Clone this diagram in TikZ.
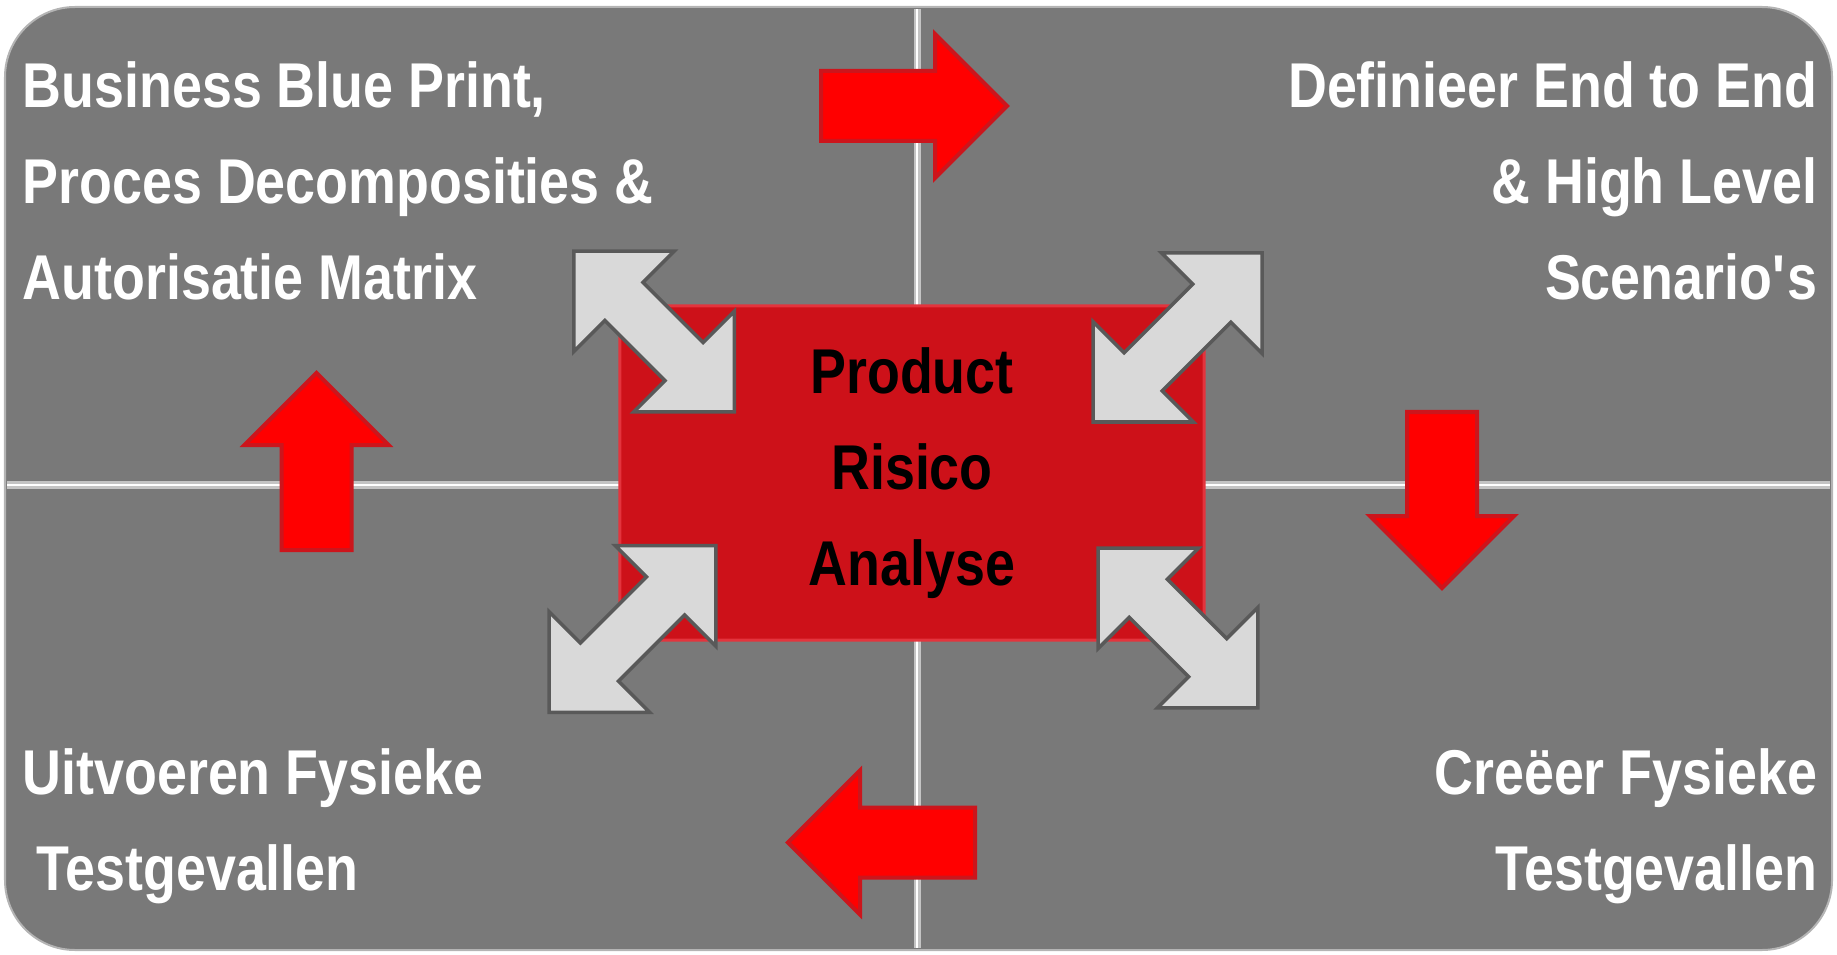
\documentclass[tikz,border=0pt]{standalone}
\usepackage{fontspec}
\newfontfamily\condfont{Liberation Sans}[FakeStretch=0.85]
\definecolor{panelgrey}{HTML}{797979}
\definecolor{paneledge}{HTML}{B4B4B4}
\definecolor{splitgrey}{HTML}{C4C4C4}
\definecolor{riskred}{HTML}{CD1119}
\definecolor{riskedge}{HTML}{E3343D}
\definecolor{flowred}{HTML}{FF0000}
\definecolor{flowedge}{HTML}{CC151C}
\definecolor{linkgrey}{HTML}{D9D9D9}
\definecolor{linkedge}{HTML}{595959}

\begin{document}
\begin{tikzpicture}[x=0.01cm, y=-0.01cm,
    quadtext/.style={text=white, inner sep=0pt, font={\condfont\bfseries\fontsize{18}{27.3}\selectfont}},
    flowarrow/.style={fill=flowred, draw=flowedge, line width=0.04cm, line join=miter},
    linkarrow/.style={fill=linkgrey, draw=linkedge, line width=0.035cm, line join=miter}]
    \useasboundingbox (0,0) rectangle (1837,955);

    % Draw panel
    \draw[fill=panelgrey, draw=paneledge, line width=0.02cm, rounded corners=0.7cm] (5,7) rectangle (1832,950);

    % Draw split lines
    \draw[splitgrey, line width=0.07cm] (917,9) -- (917,948);
    \draw[splitgrey, line width=0.07cm] (7,485) -- (1830,485);
    \draw[white, line width=0.02cm] (917,9) -- (917,948);
    \draw[white, line width=0.02cm] (7,485) -- (1830,485);

    % Draw centre box
    \node[draw=riskedge, fill=riskred, line width=0.03cm, rounded corners=0.2cm,
        minimum width=5.84cm, minimum height=3.34cm, align=center,
        font={\condfont\bfseries\fontsize{18}{27.3}\selectfont}] (risk) at (912,473) {Product\\Risico\\Analyse};

    % Draw double arrows round the box
    \foreach \cx/\cy/\ang/\len in {654/331.5/-45/227, 1177.5/337.5/45/239, 632.5/629/45/235.5, 1178/628/-45/226} {
        \pgfmathsetmacro{\half}{\len/2}
        \pgfmathsetmacro{\neck}{\len/2-71}
        \draw[linkarrow, shift={(\cx,\cy)}, rotate=\ang]
            (-\half,0) -- (-\neck,71) -- (-\neck,27) -- (\neck,27) -- (\neck,71) -- (\half,0)
            -- (\neck,-71) -- (\neck,-27) -- (-\neck,-27) -- (-\neck,-71) -- cycle;
    }

    % Draw flow arrows
    \foreach \tx/\ty/\ang/\len in {821/106/0/186, 1442/412/-90/176, 975/842.5/180/187, 316.5/550/90/177} {
        \pgfmathsetmacro{\neck}{\len-72}
        \draw[flowarrow, shift={(\tx,\ty)}, rotate=\ang]
            (0,-35) -- (\neck,-35) -- (\neck,-72) -- (\len,0) -- (\neck,72) -- (\neck,35) -- (0,35) -- cycle;
    }

    % Labels (base = last line)
    \node[quadtext, anchor=base west, align=left] (blueprint) at (22,300)
        {Business Blue Print,\\Proces Decomposities \&\\Autorisatie Matrix};
    \node[quadtext, anchor=base east, align=right] (scenarios) at (1818,300)
        {Definieer End to End\\\& High Level\\Scenario\textquotesingle s};
    \node[quadtext, anchor=base west, align=left] (execute) at (22,890)
        {Uitvoeren Fysieke\\\hspace*{0.14cm}Testgevallen};
    \node[quadtext, anchor=base east, align=right] (create) at (1818,890)
        {Creëer Fysieke\\Testgevallen};
\end{tikzpicture}
\end{document}
